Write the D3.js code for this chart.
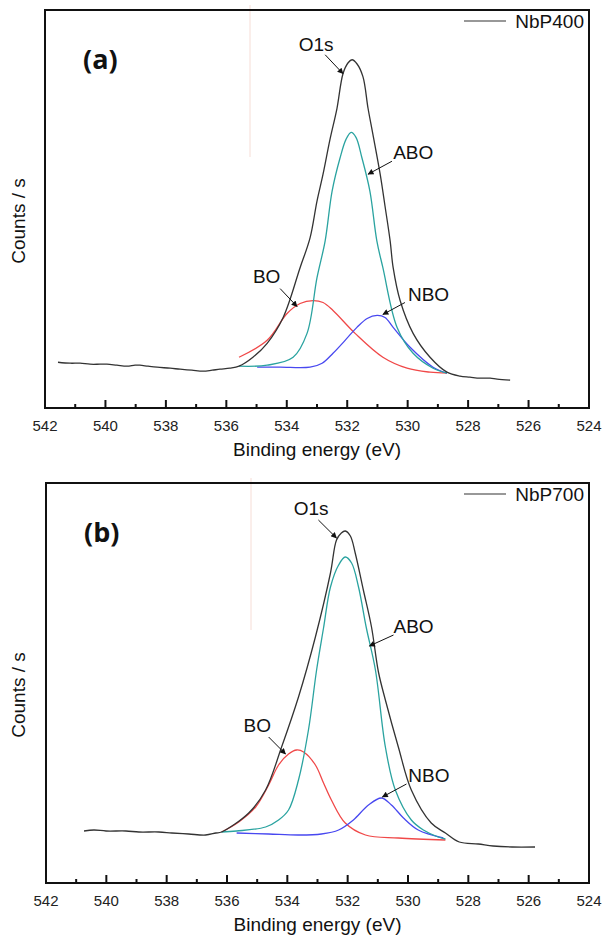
<!DOCTYPE html>
<html>
<head>
<meta charset="utf-8">
<script src="https://cdn.jsdelivr.net/npm/d3@7"></script>
<style>
  body { margin: 0; background: #fff; }
  svg { display: block; font-family: "Liberation Sans", Arial, sans-serif; }
</style>
</head>
<body>
<svg id="chart" width="602" height="941"></svg>
<script>
// x axis: binding energy (eV), reversed
const energyDomain = [542, 524];
const tickLabels = d3.range(542, 523, -2);
const minorTicks = d3.range(541, 524, -2);
const countDomain = [0, 400];   // arbitrary counts/s units

// ---- panel (a) NbP400 ----
const a_o1s_E = [541.57, 541.17, 540.84, 540.51, 540.18, 539.95, 539.62, 539.29, 539.02, 538.86, 538.59, 538.29, 537.86, 537.53, 537.14, 536.77, 536.47, 536.21, 535.88, 535.58, 535.12, 534.65, 534.12, 533.56, 533.23, 533.00, 532.80, 532.57, 532.34, 532.14, 531.97, 531.84, 531.68, 531.48, 531.31, 531.15, 530.91, 530.75, 530.58, 530.48, 530.25, 529.82, 529.26, 528.70, 528.27, 527.94, 527.61, 527.27, 527.04, 526.61];
const a_o1s_C = [46, 45, 45, 44, 44, 44, 43, 42, 43, 43, 42, 41, 40, 39, 38, 37, 38, 39, 40, 42, 51, 65, 91, 141, 171, 208, 235, 270, 301, 336, 347, 350, 346, 333, 301, 275, 235, 203, 168, 141, 108, 75, 51, 36, 32, 31, 30, 30, 29, 28];
const a_abo_E = [535.58, 534.65, 533.79, 533.33, 533.00, 532.73, 532.50, 532.24, 532.04, 531.87, 531.71, 531.51, 531.25, 531.02, 530.82, 530.35, 529.82, 529.16, 528.70];
const a_abo_C = [42, 43, 51, 75, 131, 168, 218, 251, 270, 277, 272, 251, 218, 168, 141, 81, 55, 40, 35];
const a_bo_E = [535.58, 534.65, 533.99, 533.56, 533.13, 532.80, 532.47, 531.74, 530.82, 530.02, 529.26, 528.70];
const a_bo_C = [51, 68, 95, 105, 108, 106, 98, 75, 51, 40, 36, 35];
const a_nbo_E = [534.98, 534.22, 533.23, 532.83, 532.47, 532.07, 531.68, 531.34, 531.01, 530.75, 530.48, 529.92, 529.16, 528.70];
const a_nbo_C = [41, 41, 41, 45, 55, 68, 81, 90, 93, 91, 81, 61, 41, 35];

// ---- panel (b) NbP700 ----
const b_o1s_E = [540.74, 540.41, 540.01, 539.35, 538.92, 538.26, 537.83, 537.27, 536.71, 536.37, 536.18, 535.28, 534.72, 534.19, 533.63, 533.07, 532.57, 532.37, 532.21, 532.08, 531.91, 531.75, 531.48, 531.21, 530.98, 530.75, 530.32, 529.89, 529.23, 528.76, 528.30, 527.67, 527.18, 526.55, 525.79];
const b_o1s_C = [52, 53, 52, 52, 51, 51, 50, 49, 48, 50, 51, 70, 93, 136, 186, 246, 310, 343, 350, 352, 347, 330, 293, 256, 211, 183, 136, 93, 60, 50, 41, 39, 37, 36, 36];
const b_abo_E = [536.18, 535.68, 534.72, 534.29, 533.96, 533.63, 533.30, 533.03, 532.80, 532.57, 532.30, 532.08, 531.87, 531.64, 531.38, 531.08, 530.75, 530.42, 529.89, 529.49, 529.00, 528.76];
const b_abo_C = [51, 52, 56, 63, 73, 103, 153, 213, 255, 296, 318, 326, 320, 296, 255, 213, 136, 93, 63, 53, 46, 44];
const b_bo_E = [536.18, 535.61, 535.05, 534.62, 534.29, 533.96, 533.69, 533.46, 533.07, 532.80, 532.54, 532.08, 531.41, 530.32, 528.76];
const b_bo_C = [51, 61, 76, 98, 118, 129, 133, 131, 118, 100, 83, 60, 48, 45, 43];
const b_nbo_E = [535.68, 534.62, 533.63, 532.87, 532.30, 531.81, 531.31, 530.88, 530.55, 530.15, 529.66, 528.83];
const b_nbo_C = [50, 49, 48, 49, 53, 63, 78, 85, 78, 65, 53, 45];

// annotations: label, text position (E, C), arrow start, arrow tip
const a_notes = [
  { label: "O1s", E: 533.03, C: 359, from: [532.73, 355], to: [532.14, 336], anchor: "middle" },
  { label: "ABO", E: 530.48, C: 250, from: [530.52, 248], to: [531.31, 235], anchor: "start" },
  { label: "BO",  E: 535.12, C: 126, from: [534.22, 120], to: [533.66, 102], anchor: "start" },
  { label: "NBO", E: 529.99, C: 108, from: [530.09, 106], to: [530.82, 94], anchor: "start" }
];
const b_notes = [
  { label: "O1s", E: 533.79, C: 368, from: [532.97, 363], to: [532.37, 345], anchor: "start" },
  { label: "ABO", E: 530.48, C: 250, from: [530.48, 248], to: [531.28, 237], anchor: "start" },
  { label: "BO",  E: 535.45, C: 151, from: [534.62, 146], to: [534.06, 129], anchor: "start" },
  { label: "NBO", E: 529.99, C: 101, from: [530.05, 99], to: [530.85, 86], anchor: "start" }
];

const colors = { o1s: "#333333", abo: "#2aa3a0", bo: "#f04848", nbo: "#4848f0" };

const panels = [
  { tag: "(a)", sample: "NbP400", box: { left: 45, right: 589, top: 10, bottom: 408 },
    curves: [
      { key: "bo", E: a_bo_E, C: a_bo_C },
      { key: "nbo", E: a_nbo_E, C: a_nbo_C },
      { key: "abo", E: a_abo_E, C: a_abo_C },
      { key: "o1s", E: a_o1s_E, C: a_o1s_C }
    ], notes: a_notes },
  { tag: "(b)", sample: "NbP700", box: { left: 46, right: 589, top: 483, bottom: 883 },
    curves: [
      { key: "bo", E: b_bo_E, C: b_bo_C },
      { key: "nbo", E: b_nbo_E, C: b_nbo_C },
      { key: "abo", E: b_abo_E, C: b_abo_C },
      { key: "o1s", E: b_o1s_E, C: b_o1s_C }
    ], notes: b_notes }
];

const svg = d3.select("#chart");

svg.append("defs").append("marker")
  .attr("id", "arrow")
  .attr("viewBox", "0 0 10 10")
  .attr("refX", 9).attr("refY", 5)
  .attr("markerWidth", 9).attr("markerHeight", 6)
  .attr("markerUnits", "userSpaceOnUse")
  .attr("orient", "auto")
  .append("path")
  .attr("d", "M0,0 L10,5 L0,10 z")
  .attr("fill", "#111");

for (const p of panels) {
  const b = p.box;
  const x = d3.scaleLinear().domain(energyDomain).range([b.left, b.right]);
  const y = d3.scaleLinear().domain(countDomain).range([b.bottom, b.top]);
  const g = svg.append("g");

  // faint scan artefact line in the original figure
  g.append("line")
    .attr("x1", b.left + 205).attr("x2", b.left + 205)
    .attr("y1", b.top - 5).attr("y2", b.top + 147)
    .attr("stroke", "#f6ddd6").attr("stroke-width", 1);

  // ticks (inward, on the bottom axis)
  g.selectAll(".major")
    .data(tickLabels).enter()
    .append("line")
    .attr("x1", d => x(d)).attr("x2", d => x(d))
    .attr("y1", b.bottom).attr("y2", b.bottom - 8)
    .attr("stroke", "#111").attr("stroke-width", 2);
  g.selectAll(".minor")
    .data(minorTicks).enter()
    .append("line")
    .attr("x1", d => x(d)).attr("x2", d => x(d))
    .attr("y1", b.bottom).attr("y2", b.bottom - 4)
    .attr("stroke", "#111").attr("stroke-width", 2);

  g.selectAll(".ticklabel")
    .data(tickLabels).enter()
    .append("text")
    .attr("x", d => x(d))
    .attr("y", b.bottom + 23)
    .attr("text-anchor", "middle")
    .attr("font-size", 15)
    .attr("fill", "#222")
    .text(d => d);

  // curves
  const line = d3.line()
    .x(d => d.x).y(d => d.y)
    .curve(d3.curveCatmullRom.alpha(0.5));
  for (const c of p.curves) {
    const pts = c.E.map((e, i) => ({ x: x(e), y: y(c.C[i]) }));
    g.append("path")
      .attr("d", line(pts))
      .attr("fill", "none")
      .attr("stroke", colors[c.key])
      .attr("stroke-width", 1.3);
  }

  // frame
  g.append("rect")
    .attr("x", b.left).attr("y", b.top)
    .attr("width", b.right - b.left).attr("height", b.bottom - b.top)
    .attr("fill", "none").attr("stroke", "#111").attr("stroke-width", 2);

  // annotations
  for (const n of p.notes) {
    g.append("line")
      .attr("x1", x(n.from[0])).attr("y1", y(n.from[1]))
      .attr("x2", x(n.to[0])).attr("y2", y(n.to[1]))
      .attr("stroke", "#111").attr("stroke-width", 1)
      .attr("marker-end", "url(#arrow)");
    g.append("text")
      .attr("x", x(n.E)).attr("y", y(n.C))
      .attr("text-anchor", n.anchor)
      .attr("font-size", 19)
      .attr("fill", "#111")
      .text(n.label);
  }

  // legend
  g.append("line")
    .attr("x1", b.right - 125).attr("x2", b.right - 83)
    .attr("y1", b.top + 11).attr("y2", b.top + 11)
    .attr("stroke", colors.o1s).attr("stroke-width", 1.2);
  g.append("text")
    .attr("x", b.right - 5).attr("y", b.top + 18)
    .attr("text-anchor", "end")
    .attr("font-size", 19)
    .attr("fill", "#111")
    .text(p.sample);

  // panel tag
  g.append("text")
    .attr("x", b.left + 38).attr("y", b.top + 59)
    .attr("font-family", "'Open Sans', 'Noto Sans', sans-serif")
    .attr("font-weight", "bold")
    .attr("font-size", 27)
    .attr("fill", "#111")
    .text(p.tag);

  // axis titles
  g.append("text")
    .attr("x", (b.left + b.right) / 2)
    .attr("y", b.bottom + 48)
    .attr("text-anchor", "middle")
    .attr("font-size", 19)
    .attr("fill", "#111")
    .text("Binding energy (eV)");
  g.append("text")
    .attr("transform", `translate(25,${(b.top + b.bottom) / 2 + 12}) rotate(-90)`)
    .attr("text-anchor", "middle")
    .attr("font-size", 19)
    .attr("fill", "#111")
    .text("Counts / s");
}
</script>
</body>
</html>
